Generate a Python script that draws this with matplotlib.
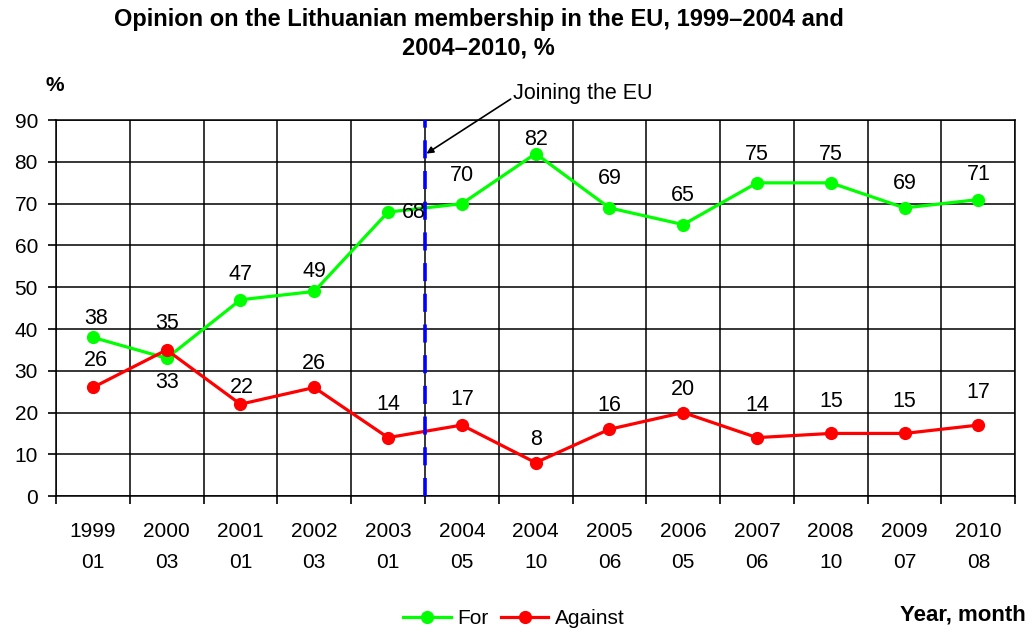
import matplotlib.pyplot as plt
import numpy as np

plt.rcParams['font.family'] = ['Liberation Sans', 'DejaVu Sans']

periods = ["1999\n01", "2000\n03", "2001\n01", "2002\n03", "2003\n01", "2004\n05",
           "2004\n10", "2005\n06", "2006\n05", "2007\n06", "2008\n10", "2009\n07", "2010\n08"]
votes_for = [38, 33, 47, 49, 68, 70, 82, 69, 65, 75, 75, 69, 71]
votes_against = [26, 35, 22, 26, 14, 17, 8, 16, 20, 14, 15, 15, 17]

# label offsets in pixels (dx, dy), taken from the original layout
for_offsets = [(3, 19), (0, -24), (0, 25), (0, 20), (26, 0), (0, 28), (0, 14),
               (0, 29), (0, 29), (0, 28), (0, 28), (0, 24), (0, 25)]
against_offsets = [(3, 27), (0, 26), (1, 17), (0, 24), (0, 33), (0, 26), (0, 23),
                   (0, 24), (0, 23), (0, 32), (0, 32), (0, 32), (0, 33)]

fig = plt.figure(figsize=(10.36, 6.36), dpi=100)
ax = fig.add_axes([0.054, 0.220, 0.926, 0.591])

x = np.arange(len(periods)) + 0.5

ax.plot(x, votes_for, color='#00ff00', lw=2.3, marker='o', ms=8.5, label='For', zorder=3)
ax.plot(x, votes_against, color='#ff0000', lw=2.3, marker='o', ms=8.5, label='Against', zorder=3)

px = 0.72  # pixel -> point
for vals, offs in ((votes_for, for_offsets), (votes_against, against_offsets)):
    for i, v in enumerate(vals):
        dx, dy = offs[i]
        ax.annotate(str(v), (x[i], v), xytext=(dx * px, dy * px), textcoords='offset points',
                    ha='center', va='center', fontsize=15.5, zorder=4)

# joining the EU marker
ax.axvline(5, color='#0000ff', lw=2.6, ls=(0, (5, 3.5)), zorder=3)
ax.annotate('Joining the EU', xy=(5.02, 82), xytext=(6.2, 96.5), fontsize=15.5,
            ha='left', va='center', annotation_clip=False,
            arrowprops=dict(arrowstyle='-|>', color='black', lw=1.2, mutation_scale=10,
                            shrinkA=0, shrinkB=0, relpos=(0, 0.3)))

ax.set_xlim(0, len(periods))
ax.set_ylim(0, 90)
ax.set_yticks(np.arange(0, 91, 10))
ax.set_xticks(np.arange(0, len(periods) + 1))
ax.set_xticklabels([])
ax.set_xticks(x, minor=True)
ax.set_xticklabels(periods, minor=True, fontsize=15, linespacing=1.75)
ax.tick_params(axis='x', which='minor', length=0, pad=19)
ax.tick_params(axis='x', which='major', length=6, width=1.2, direction='out')
ax.tick_params(axis='y', length=6, width=1.2, labelsize=15, pad=7)
ax.grid(True, which='major', color='black', lw=1.1)
for s in ax.spines.values():
    s.set_linewidth(1.1)

fig.text(0.462, 0.988, 'Opinion on the Lithuanian membership in the EU, 1999\u20132004 and\n2004\u20132010, %',
         ha='center', va='top', fontsize=17, fontweight='bold', linespacing=1.3)
fig.text(0.053, 0.866, '%', ha='center', va='center', fontsize=15, fontweight='bold')
fig.text(0.99, 0.033, 'Year, month', ha='right', va='center', fontsize=16, fontweight='bold')

ax.legend(loc='center', bbox_to_anchor=(0.477, -0.327), ncol=2, frameon=False, fontsize=15,
          handlelength=2.3, columnspacing=0.6, handletextpad=0.3)

fig.savefig('out.png', dpi=100)
